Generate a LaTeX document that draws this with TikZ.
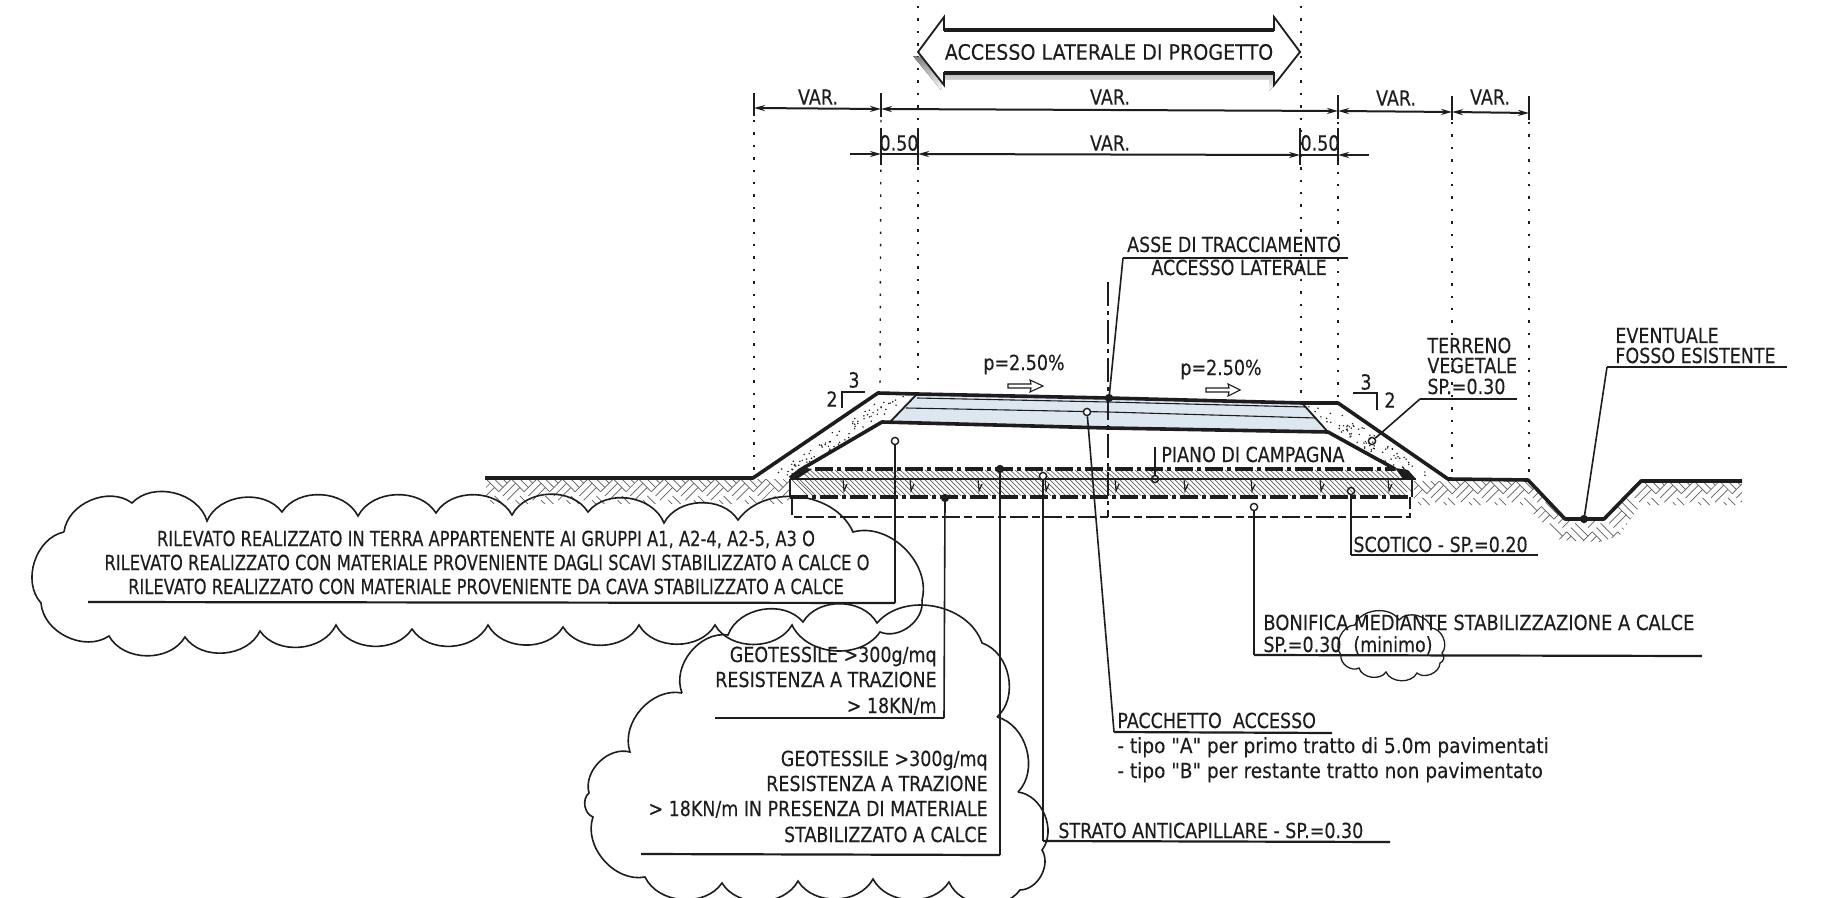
\documentclass[tikz,border=0pt]{standalone}
\usepackage{fontspec}
\usetikzlibrary{arrows.meta}
\setmainfont{DejaVu Sans}
\newfontfamily\fa[FakeStretch=0.84,FakeBold=0.15]{DejaVu Sans}
\newfontfamily\fb[FakeStretch=0.785,FakeBold=0.15]{DejaVu Sans}
\newfontfamily\fc[FakeStretch=0.90,FakeBold=0.15]{DejaVu Sans}
\newfontfamily\fd[FakeStretch=0.89,FakeBold=0.15]{DejaVu Sans}
\newfontfamily\fe[FakeStretch=0.86,FakeBold=0.15]{DejaVu Sans}
\definecolor{ink}{HTML}{1E1C1E}
\definecolor{hatch}{HTML}{5E5C5E}
\definecolor{pave}{HTML}{DDE7F0}
\definecolor{shade}{HTML}{9AA4AE}
\tikzset{
  lbl/.style={inner sep=0pt,text=ink,font=\fa\fontsize{10.4}{12}\selectfont},
  lblb/.style={inner sep=0pt,text=ink,font=\fb\fontsize{10.4}{12}\selectfont},
  lbld/.style={inner sep=0pt,text=ink,font=\fd\fontsize{10.4}{12}\selectfont},
  lble/.style={inner sep=0pt,text=ink,font=\fe\fontsize{10.4}{12}\selectfont},
  lead/.style={draw=ink,line width=0.8pt},
  shelf/.style={draw=ink,line width=1.1pt},
  dim/.style={draw=ink,line width=1pt},
  dimtip/.style={{Stealth[length=5.5pt,width=3pt]}-{Stealth[length=5.5pt,width=3pt]}},
  tick/.style={draw=ink,line width=0.7pt},
  dots/.style={draw=ink,line width=0.7pt,dash pattern=on 1.2pt off 5pt},
  heavy/.style={draw=ink,line width=1.8pt,line join=round},
  thinl/.style={draw=ink,line width=0.55pt},
  dashdot/.style={draw=ink,line width=1.6pt,dash pattern=on 9pt off 2pt on 2pt off 2pt},
  dashbox/.style={draw=ink,line width=0.9pt,dash pattern=on 9pt off 2pt on 4pt off 2pt},
  axisl/.style={draw=ink,line width=0.7pt,dash pattern=on 12pt off 2.5pt on 2pt off 2.5pt},
  hat/.style={draw=hatch,line width=0.35pt},
  cloudl/.style={draw=ink,line width=0.8pt,line join=miter,every to/.style={bend left=60}},
  opendot/.style={circle,draw=ink,fill=white,line width=0.7pt,inner sep=0pt,minimum size=3.6pt},
  fulldot/.style={circle,draw=ink,fill=ink,line width=0.5pt,inner sep=0pt,minimum size=3.6pt},
}
% parquet: 45-degree grid of cells of three parallel strokes
\newcommand{\parq}[6]{%
  \begin{scope}[shift={(#1,#2)},rotate=45]
    \foreach \i in {#3,...,#4}{
      \foreach \j in {#5,...,#6}{
        \pgfmathtruncatemacro\cellodd{mod(abs(\i+\j),2)}
        \foreach \s in {0,6,12}{
          \ifnum\cellodd=0
            \draw[hat] ({\i*18+\s},{\j*18}) -- ++(0,18);
          \else
            \draw[hat] ({\i*18},{\j*18+\s}) -- ++(18,0);
          \fi
        }
      }
    }
  \end{scope}}
\begin{document}
\begin{tikzpicture}[x=0.5pt,y=-0.5pt]
\useasboundingbox (0,0) rectangle (1823,898);
\fill[white] (0,0) rectangle (1823,898);

% ---- ground hatching
\begin{scope}
  \clip (486,479) rectangle (790,503);
  \parq{486}{479}{-2}{13}{0}{14}
\end{scope}
\begin{scope}
  \clip (1414,481) -- (1528,481) -- (1565,520) -- (1604,520) -- (1641,482) -- (1742,482) -- (1742,505) -- (1640,505) -- (1620,535) -- (1600,542) -- (1560,540) -- (1525,505) -- (1414,505) -- cycle;
  \parq{1414}{481}{-4}{14}{0}{17}
\end{scope}

% ---- fine hatching of the base layers
\foreach \x in {800,805,...,1390}{
  \draw[hat] (\x,470) -- ++(9,8);
  \draw[hat] (\x,480) -- ++(16,16);
}
\foreach \x in {792,797}{\draw[hat] (\x,480) -- ++(16,16);}
\foreach \x in {1395,1400}{\draw[hat] (\x,480) -- ++(12,12);}

% ---- pavement package fill
\fill[pave] (917,394) -- (1302,403) -- (1328,432) -- (1108,428) -- (890,422) -- cycle;

% ---- stipple in the topsoil
\pgfmathsetseed{5}
\foreach \i in {1,...,80}{
  \pgfmathsetmacro\u{rnd}\pgfmathsetmacro\v{rnd}
  \fill[ink] ({768+\u*118+\v*26},{476-\u*80}) circle (0.42pt);
  \pgfmathsetmacro\u{rnd}\pgfmathsetmacro\v{rnd}
  \fill[ink] ({1432-\u*100-\v*28},{476-\u*70}) circle (0.42pt);
}

% ---- dotted verticals
\coordinate (d1t) at (754,120); \coordinate (d1b) at (754,476);
\coordinate (d2t) at (881,120); \coordinate (d2b) at (880,390);
\coordinate (d3t) at (918,6);   \coordinate (d3b) at (918,388);
\coordinate (d4t) at (1301,6);  \coordinate (d4b) at (1301,398);
\coordinate (d5t) at (1338,122);\coordinate (d5b) at (1338,400);
\coordinate (d6t) at (1452,122);\coordinate (d6b) at (1452,476);
\coordinate (d7t) at (1529,122);\coordinate (d7b) at (1529,476);
\foreach \n in {1,...,7}{\draw[dots] (d\n t) -- (d\n b);}

% ---- big arrow
\coordinate (al) at (918,52); \coordinate (ar) at (1300,52);
\fill[shade] (913,56) -- (941,90) -- (941,80) -- (1269,80) -- (1269,91) -- (1274,86) -- (1274,60) -- (944,60) -- cycle;
\fill[white] (al) -- (944,17) -- (944,30) -- (1274,30) -- (1274,17) -- (ar) -- (1274,85) -- (1274,73) -- (944,73) -- (944,85) -- cycle;
\draw[draw=ink,line width=0.9pt,line join=miter] (al) -- (944,17) -- (944,30) -- (1274,30) -- (1274,17) -- (ar) -- (1274,85) -- (1274,73) -- (944,73) -- (944,85) -- cycle;
\draw[draw=ink,line width=1.6pt] (944,30) -- (1274,30) (944,73) -- (1274,73);
\node[lbl,font=\fc\fontsize{10.6}{12}\selectfont] (bigtxt) at (1109,52) {ACCESSO LATERALE DI PROGETTO};

% ---- dimension line 1
\coordinate (a1) at (754,108); \coordinate (a2) at (881,109); \coordinate (a3) at (1338,111);
\coordinate (a4) at (1452,112); \coordinate (a5) at (1529,113);
\draw[dim,dimtip] (a1) -- (a2);
\draw[dim,dimtip] (a2) -- (a3);
\draw[dim,dimtip] (a3) -- (a4);
\draw[dim,dimtip] (a4) -- (a5);
\draw[tick] (754,93) -- (754,116) (881,93) -- (881,117) (1338,95) -- (1338,119) (1452,96) -- (1452,120) (1529,96) -- (1529,120);
\node[lbl] (v1) at (818,97) {VAR.};
\node[lbl] (v2) at (1110,97) {VAR.};
\node[lbl] (v3) at (1396,98) {VAR.};
\node[lbl] (v4) at (1490,97) {VAR.};

% ---- dimension line 2
\coordinate (b0) at (850,154); \coordinate (b1) at (881,154); \coordinate (b2) at (918,154);
\coordinate (b3) at (1300,155); \coordinate (b4) at (1338,155); \coordinate (b5) at (1369,155);
\draw[dim,-{Stealth[length=5.5pt,width=3pt]}] (b0) -- (b1);
\draw[dim] (b1) -- (b2);
\draw[dim,dimtip] (b2) -- (b3);
\draw[dim] (b3) -- (b4);
\draw[dim,-{Stealth[length=5.5pt,width=3pt]}] (b5) -- (b4);
\draw[tick] (881,128) -- (881,165) (918,128) -- (918,165) (1300,128) -- (1300,165) (1338,128) -- (1338,165);
\node[lbl] (z1) at (899,143) {0.50};
\node[lbl] (v5) at (1110,143) {VAR.};
\node[lbl] (z2) at (1320,143) {0.50};

% ---- road body
\draw[heavy] (485,478) -- (753,478) -- (878,393) -- (917,394) -- (1108,398) -- (1302,403) -- (1338,403) -- (1448,479) -- (1528,480) -- (1565,519) -- (1604,519) -- (1641,481) -- (1742,481);
\draw[heavy] (790,478) -- (800,470) -- (882,422) -- (1108,428) -- (1328,432) -- (1395,469);
\draw[thinl,line width=0.9pt] (917,394) -- (890,422);
\draw[thinl,line width=0.9pt] (1302,403) -- (1328,432);
\draw[thinl] (917,398) -- (1108,402) -- (1306,407);
\draw[thinl] (906,408) -- (1108,412) -- (1316,418);
\fill[ink] (1395,468) -- (1408,470) -- (1416,479) -- (1403,479) -- cycle;
\fill[ink] (790,478) -- (806,468) -- (812,469) -- (797,479) -- cycle;

% ---- base layers
\draw[dashdot] (815,469) -- (1395,469);
\draw[draw=ink,line width=0.9pt] (790,479) -- (1416,479);
\draw[dashdot] (790,497) -- (1412,497);
\draw[draw=ink,line width=1.4pt] (790,479) -- (790,497);
\draw[draw=ink,line width=1.4pt] (1412,479) -- (1412,497);
\draw[dashbox] (792,497) -- (792,517) -- (1410,517) -- (1410,497);
\foreach \x in {843,910,978,1045,1115,1184,1251,1320,1388}{
  \draw[thinl] (\x,479) -- (\x+1,491) -- (\x+4,484);
}

% ---- axis
\coordinate (ax1) at (1108,282); \coordinate (ax2) at (1108,517);
\draw[axisl] (ax1) -- (ax2);

% ---- clouds
\draw[cloudl] (64,532) to (132,503) to (207,521) to (282,512) to (358,516) to (436,513) to (512,515) to (588,512) to (664,523) to (738,520) to (853,532) to (922,600) to (880,632) to (792,625) to (715,625) to (639,625) to (563,627) to (488,625) to (412,629) to (336,625) to (260,631) to (185,637) to (109,636) to (41,603) to (64,532);
\draw[cloudl] (682,693) to (728,635) to (803,622) to (877,623) to (982,643) to (997,717);
\draw[cloudl] (997,717) to (1018,792);
\draw[cloudl] (1018,792) to (1042,850) to (1020,890) to (949,882) to (873,879) to (798,881) to (722,883) to (645,877) to (593,817) to (589,793) to (630,752) to (682,693);
\draw[cloudl,line width=0.65pt,every to/.style={bend left=65}] (1341,655) to (1355,625) to (1399,620) to (1431,628) to (1442,653) to (1440,663) to (1417,673) to (1386,672) to (1359,668) to (1341,655);

% ---- leaders
\node[opendot] (cril) at (895,441) {};
\node[fulldot] (cg1) at (945,498) {};
\node[fulldot] (cg2) at (1000,469) {};
\node[opendot] (cstr) at (1043,476) {};
\node[opendot] (cpac) at (1087,412) {};
\node[fulldot] (case) at (1109,398) {};
\node[opendot,fill=none] (cpia) at (1155,479) {};
\node[opendot,fill=none] (cter) at (1372,441) {};
\node[fulldot] (ceve) at (1584,519) {};
\node[opendot,fill=none] (csco) at (1351,491) {};
\node[opendot] (cbon) at (1254,507) {};

\coordinate (kril) at (895,603); \coordinate (eril) at (88,602);
\draw[lead] (cril) -- (kril); \draw[shelf] (kril) -- (eril);
\coordinate (kg1) at (944,718); \coordinate (eg1) at (715,718);
\draw[lead] (cg1) -- (kg1); \draw[shelf] (kg1) -- (eg1);
\coordinate (kg2) at (1000,855); \coordinate (eg2) at (641,854);
\draw[lead] (cg2) -- (kg2); \draw[shelf] (kg2) -- (eg2);
\coordinate (kstr) at (1043,841); \coordinate (estr) at (1390,842);
\draw[lead] (cstr) -- (kstr); \draw[shelf] (kstr) -- (estr);
\coordinate (kpac) at (1114,732); \coordinate (epac) at (1332,733);
\draw[lead] (cpac) -- (kpac); \draw[shelf] (kpac) -- (epac);
\coordinate (kase) at (1123,258); \coordinate (ease) at (1348,258);
\draw[lead] (case) -- (kase); \draw[shelf] (kase) -- (ease);
\coordinate (kpia) at (1155,447);
\draw[lead] (cpia) -- (kpia);
\coordinate (kter) at (1420,399); \coordinate (eter) at (1517,399);
\draw[lead] (cter) -- (kter); \draw[shelf] (kter) -- (eter);
\coordinate (keve) at (1607,367); \coordinate (eeve) at (1787,367);
\draw[lead] (ceve) -- (keve); \draw[shelf] (keve) -- (eeve);
\coordinate (ksco) at (1351,555); \coordinate (esco) at (1538,555);
\draw[lead] (csco) -- (ksco); \draw[shelf] (ksco) -- (esco);
\coordinate (kbon) at (1254,655); \coordinate (ebon) at (1702,656);
\draw[lead] (cbon) -- (kbon); \draw[shelf] (kbon) -- (ebon);

% ---- slope marks
\coordinate (s1) at (842,408); \coordinate (s2) at (842,392); \coordinate (s3) at (865,392);
\draw[thinl,line width=0.8pt] (s1) -- (s2) -- (s3);
\node[lbl] (t3l) at (854,380) {3};
\node[lbl] (t2l) at (832,399) {2};
\coordinate (s4) at (1353,393); \coordinate (s5) at (1377,393); \coordinate (s6) at (1377,410);
\draw[thinl,line width=0.8pt] (s4) -- (s5) -- (s6);
\node[lbl] (t3r) at (1366,382) {3};
\node[lbl] (t2r) at (1390,400) {2};

\node[lbl,anchor=base] (pl) at (1024,370) {p=2.50\%};
\node[lbl,anchor=base] (pr) at (1221,375) {p=2.50\%};
\draw[thinl] (1008,384) -- (1031,384) -- (1030,380) -- (1043,386) -- (1030,392) -- (1031,388) -- (1008,388) -- cycle;
\draw[thinl] (1206,388) -- (1229,388) -- (1228,384) -- (1240,390) -- (1228,396) -- (1229,392) -- (1206,392) -- cycle;

% ---- texts
\node[lbl,anchor=base] (as1) at (1234,252) {ASSE DI TRACCIAMENTO};
\node[lbl,anchor=base] (as2) at (1239,275) {ACCESSO LATERALE};
\node[lbl,anchor=base west] (pi) at (1161,462) {PIANO DI CAMPAGNA};
\node[lbl,anchor=base west] (te1) at (1427,353) {TERRENO};
\node[lbl,anchor=base west] (te2) at (1427,373) {VEGETALE};
\node[lbl,anchor=base west] (te3) at (1427,394) {SP.=0.30};
\node[lbl,anchor=base west] (ev1) at (1615,343) {EVENTUALE};
\node[lbl,anchor=base west] (ev2) at (1615,363) {FOSSO ESISTENTE};
\node[lbl,anchor=base west] (sc) at (1353,552) {SCOTICO - SP.=0.20};
\node[lble,anchor=base west] (bo1) at (1263,630) {BONIFICA MEDIANTE STABILIZZAZIONE A CALCE};
\node[lbl,anchor=base west] (bo2) at (1263,652) {SP.=0.30};
\node[lbl,anchor=base west] (bo3) at (1353,652) {(minimo)};
\node[lbl,anchor=base west] (pa1) at (1117,728) {PACCHETTO\ \ ACCESSO};
\node[lbld,anchor=base west] (pa2) at (1117,753) {- tipo "A" per primo tratto di 5.0m pavimentati};
\node[lbld,anchor=base west] (pa3) at (1117,778) {- tipo "B" per restante tratto non pavimentato};
\node[lbl,anchor=base west] (st) at (1058,838) {STRATO ANTICAPILLARE - SP.=0.30};

\node[lblb,anchor=base] (r1) at (486,546) {RILEVATO REALIZZATO IN TERRA APPARTENENTE AI GRUPPI A1, A2-4, A2-5, A3 O};
\node[lblb,anchor=base] (r2) at (487,570) {RILEVATO REALIZZATO CON MATERIALE PROVENIENTE DAGLI SCAVI STABILIZZATO A CALCE O};
\node[lblb,anchor=base] (r3) at (486,594) {RILEVATO REALIZZATO CON MATERIALE PROVENIENTE DA CAVA STABILIZZATO A CALCE};

\node[lbl,anchor=base east] (g11) at (937,662) {GEOTESSILE >300g/mq};
\node[lbl,anchor=base east] (g12) at (937,687) {RESISTENZA A TRAZIONE};
\node[lbl,anchor=base east] (g13) at (937,713) {> 18KN/m};
\node[lbl,anchor=base east] (g21) at (988,766) {GEOTESSILE >300g/mq};
\node[lbl,anchor=base east] (g22) at (988,791) {RESISTENZA A TRAZIONE};
\node[lbl,anchor=base east] (g23) at (988,816) {> 18KN/m IN PRESENZA DI MATERIALE};
\node[lbl,anchor=base east] (g24) at (988,842) {STABILIZZATO A CALCE};
\end{tikzpicture}
\end{document}
